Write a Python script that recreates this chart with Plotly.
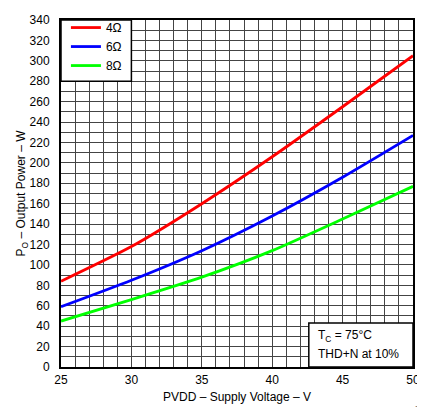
import plotly.graph_objects as go

voltage = [25, 30, 35, 40, 45, 50]
p_4ohm = [84, 118, 160, 206, 255, 305]
p_6ohm = [59, 85, 114, 148, 186, 227]
p_8ohm = [45, 66, 88, 114, 145, 177]
series_names = ["4Ω", "6Ω", "8Ω"]
series_colors = ["#FF0000", "#0000FF", "#00FF00"]

FONT = "Liberation Sans, Arial, sans-serif"

fig = go.Figure()
for name, vals, col in zip(series_names, [p_4ohm, p_6ohm, p_8ohm], series_colors):
    fig.add_trace(go.Scatter(x=voltage, y=vals, mode="lines", name=name,
                             line=dict(color=col, width=2.8, shape="spline", smoothing=0.6)))

grid_col = "#444444"
fig.update_xaxes(range=[25, 50], dtick=5, tick0=25, showgrid=True, gridcolor=grid_col, gridwidth=1,
                 minor=dict(dtick=1, showgrid=True, gridcolor=grid_col, gridwidth=1),
                 showline=True, linecolor="black", linewidth=2, mirror=True, zeroline=False,
                 ticks="", ticklabelstandoff=1, ticklabeloverflow="allow",
                 tickfont=dict(family=FONT, size=12, color="black"),
                 title=dict(text="PVDD – Supply Voltage – V", font=dict(family=FONT, size=12, color="black"), standoff=6))
fig.update_yaxes(range=[0, 340], dtick=20, tick0=0, showgrid=True, gridcolor=grid_col, gridwidth=1,
                 minor=dict(dtick=10, showgrid=True, gridcolor=grid_col, gridwidth=1),
                 showline=True, linecolor="black", linewidth=2, mirror=True, zeroline=False,
                 ticks="", ticklabelstandoff=7,
                 tickfont=dict(family=FONT, size=12, color="black"),
                 title=dict(text="P<sub>O</sub> – Output Power – W", font=dict(family=FONT, size=12, color="black"), standoff=0))

# white boxes for legend and condition note
fig.add_shape(type="rect", x0=25, x1=30, y0=280, y1=340, xref="x", yref="y",
              fillcolor="white", line=dict(color="black", width=1.5), layer="above")
fig.add_shape(type="rect", x0=42.6, x1=50, y0=0, y1=43, xref="x", yref="y",
              fillcolor="white", line=dict(color="black", width=1.5), layer="above")

fig.add_annotation(x=43.1, y=30, xref="x", yref="y", xanchor="left", yanchor="middle", showarrow=False,
                   text="T<sub>C</sub> = 75°C", font=dict(family=FONT, size=12, color="black"))
fig.add_annotation(x=43.1, y=13, xref="x", yref="y", xanchor="left", yanchor="middle", showarrow=False,
                   text="THD+N at 10%", font=dict(family=FONT, size=12, color="black"))
fig.add_annotation(x=1.0, xref="paper", y=-0.105, yref="paper", showarrow=False, text="G001",
                   xanchor="left", yanchor="top",
                   font=dict(family=FONT, size=6, color="black"))

fig.update_layout(
    width=417, height=399,
    margin=dict(l=53, r=10, t=5, b=40),
    paper_bgcolor="white", plot_bgcolor="white",
    showlegend=True,
    legend=dict(x=0.014, y=1.02, xanchor="left", yanchor="top", bgcolor="rgba(0,0,0,0)",
                borderwidth=0, font=dict(family=FONT, size=12, color="black"),
                itemwidth=30, tracegroupgap=0),
)

fig.write_html("out.html")
